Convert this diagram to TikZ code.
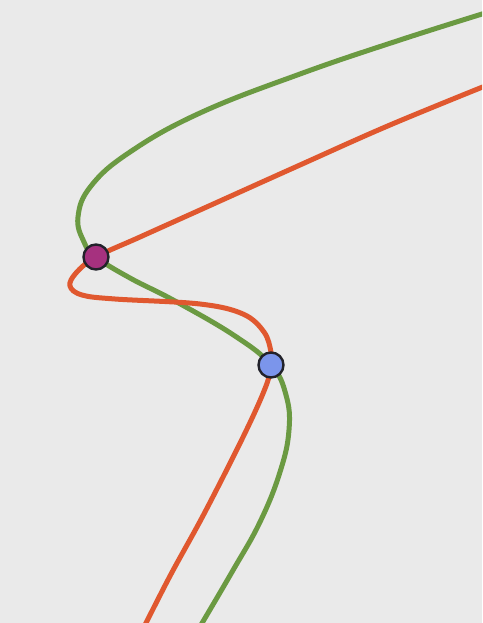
\documentclass[tikz,border=0pt]{standalone}
\definecolor{bg}{HTML}{EAEAEA}
\definecolor{cgreen}{HTML}{6B9A42}
\definecolor{corange}{HTML}{E0582F}
\definecolor{cmag}{HTML}{A6317F}
\definecolor{cblue}{HTML}{7B95EB}
\definecolor{cedge}{HTML}{22222A}
\tikzset{
  curve/.style={line width=5pt, line cap=round},
  dot/.style={circle, draw=cedge, line width=2.4pt, minimum size=25pt, inner sep=0pt}
}
\begin{document}
\begin{tikzpicture}[x=1pt,y=-1pt]
\fill[bg] (0,0) rectangle (482,623);
\useasboundingbox (0,0) rectangle (482,623);
\begin{scope}
\clip (0,0) rectangle (482,623);
\draw[curve, cgreen] plot[smooth, tension=0.7] coordinates {(495,10) (400,40) (300,74) (200,113) (130,152) (91,186) (78,217) (84,242) (96,257) (130,278) (175,301) (235,336) (271,365) (286,395) (289,430) (280,472) (260,522) (232,572) (195,635)};
\draw[curve, corange] plot[smooth, tension=0.6] coordinates {(495,82) (390,125) (300,165) (200,210) (140,237) (96,257) (76,273) (70,286) (82,295) (115,299) (200,304) (243,314) (264,332) (271,352) (271,365) (266,386) (245,433) (205,512) (170,576) (140,635)};
\end{scope}
\node[dot, fill=cmag] (m) at (96,257) {};
\node[dot, fill=cblue] (b) at (271,365) {};
\end{tikzpicture}
\end{document}
